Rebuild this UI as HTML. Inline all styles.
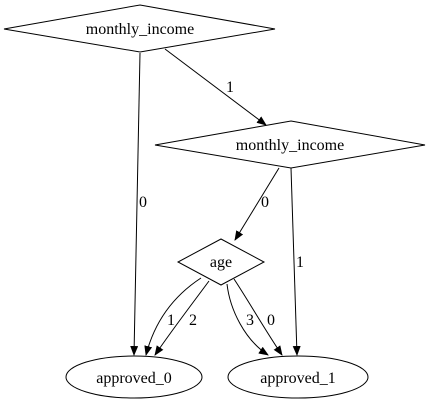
<!DOCTYPE html>
<html><head><style>body{margin:0;background:#fff}svg{display:block}text{font-family:"Liberation Serif",serif;font-size:16px;fill:#000}</style></head><body>
<svg width="431" height="407" viewBox="0 0 431 407">
<defs><marker id="a" markerWidth="10" markerHeight="8" refX="9" refY="4" orient="auto" markerUnits="userSpaceOnUse"><path d="M0,0 L10,4 L0,8 Z" fill="#000"/></marker></defs>
<g fill="none" stroke="#000" stroke-width="1">
<polygon points="140,5 275,29 140,52 4,29" fill="#fff"/>
<polygon points="291,121 425,145 291,168 155,145" fill="#fff"/>
<polygon points="221,239 264,262 221,285 178,262" fill="#fff"/>
<ellipse cx="134" cy="377" rx="68" ry="21"/>
<ellipse cx="298" cy="377" rx="70" ry="21"/>
<path d="M140,53 L134,355" marker-end="url(#a)"/>
<path d="M165,49 L266,125" marker-end="url(#a)"/>
<path d="M279,168 L235,240" marker-end="url(#a)"/>
<path d="M291,168 L297,355" marker-end="url(#a)"/>
<path d="M201,278 C175,295 155,320 146,355" marker-end="url(#a)"/>
<path d="M209,281 C195,300 172,330 155,355" marker-end="url(#a)"/>
<path d="M227,284 C230,310 245,340 268,355" marker-end="url(#a)"/>
<path d="M234,279 C248,300 265,330 282,355" marker-end="url(#a)"/>
</g>
<g text-anchor="middle">
<text x="140" y="34">monthly_income</text>
<text x="290" y="150">monthly_income</text>
<text x="221" y="267">age</text>
<text x="134" y="383">approved_0</text>
<text x="298" y="383">approved_1</text>
<text x="143" y="207">0</text>
<text x="230" y="92">1</text>
<text x="265" y="207">0</text>
<text x="300" y="267">1</text>
<text x="171" y="325">1</text>
<text x="193" y="325">2</text>
<text x="250" y="325">3</text>
<text x="271" y="325">0</text>
</g>
</svg>
</body></html>
